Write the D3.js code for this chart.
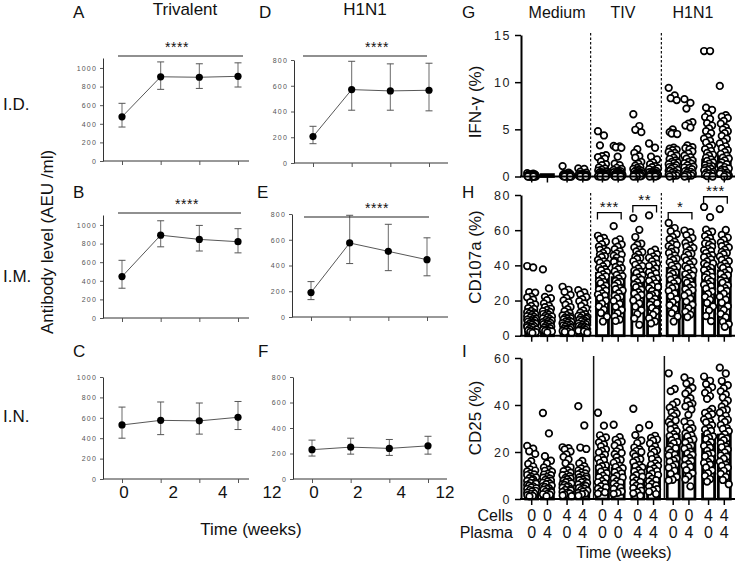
<!DOCTYPE html>
<html><head><meta charset="utf-8">
<script src="https://cdn.jsdelivr.net/npm/d3@7"></script>
<style>body{margin:0;background:#fff}svg{display:block}text{font-family:"Liberation Sans",Arial,sans-serif}</style>
</head><body><svg id="c" width="739" height="565"></svg>
<script>
// ---------- DATA: antibody levels (mean, lower, upper) ----------
const weeks = [0, 2, 4, 12];
const weekLabels = ["0", "2", "4", "12"];
const routeLabels = ["I.D.", "I.M.", "I.N."];
const vaccineLabels = ["Trivalent", "H1N1"];
const panelLetters = ["A", "B", "C", "D", "E", "F"];

const trivID = [475, 905, 900, 910];
const trivIDlo = [365, 770, 780, 795];
const trivIDhi = [620, 1065, 1045, 1055];
const trivIM = [445, 890, 845, 820];
const trivIMlo = [320, 765, 720, 700];
const trivIMhi = [620, 1045, 995, 960];
const trivIN = [530, 575, 570, 605];
const trivINlo = [400, 435, 440, 485];
const trivINhi = [705, 755, 745, 760];
const h1ID = [205, 570, 560, 565];
const h1IDlo = [150, 410, 410, 405];
const h1IDhi = [285, 790, 770, 775];
const h1IM = [190, 575, 510, 445];
const h1IMlo = [135, 415, 360, 320];
const h1IMhi = [275, 790, 720, 615];
const h1IN = [230, 250, 240, 260];
const h1INlo = [180, 195, 185, 195];
const h1INhi = [305, 320, 310, 335];
const sigLabels = ["****", "****", "", "****", "****", ""];

// ---------- DATA: cell assays ----------
const stimuli = ["Medium", "TIV", "H1N1"];
const cellsWeek = ["0","0","4","4","0","4","0","4","0","0","4","4"];
const plasmaWeek = ["0","4","0","4","0","0","4","4","0","4","0","4"];

const ifnMean = [0.1, 0.2, 0.1, 0.1, 0.7, 0.6, 0.7, 0.6, 1.8, 1.8, 1.75, 2.1];
const ifnPoints = [
 [0.35,0.22,0.18,0.12,0.1,0.08,0.06,0.05,0.04,0.03,0.02,0.01,0,0,0,0,0.15,0.25,0.09,0.05,0.02,0.2,0.11,0,0.07,0.13,0.3,0.04],
 [],
 [1.1,0.42,0.31,0.24,0.18,0.12,0.1,0.08,0.05,0.04,0.02,0,0,0,0.15,0.09,0.06,0.01,0.21,0.11,0,0.03,0.07,0.14,0.27],
 [0.85,0.8,0.52,0.41,0.3,0.22,0.17,0.12,0.1,0.08,0.05,0.02,0,0,0,0.14,0.09,0.06,0.01,0.19,0.11,0,0.04,0.07,0.26],
 [4.8,4.35,3.3,2.25,2.15,2.05,1.9,1.6,1.3,1.2,0.95,0.85,0.72,0.63,0.55,0.48,0.42,0.37,0.33,0.28,0.25,0.21,0.18,0.15,0.12,0.1,0.08,0.06,0.04,0.02,0,0,0,0.5,0.3,0.2,0.1,0.05],
 [3.25,3.2,3.1,3.05,2.1,1.35,1.2,0.92,0.8,0.7,0.62,0.55,0.48,0.4,0.36,0.31,0.27,0.24,0.2,0.17,0.14,0.11,0.08,0.06,0.04,0.02,0,0,0,0.45,0.25,0.15,0.05],
 [6.6,5.35,4.95,4.7,2.9,2.5,2.15,2.0,1.55,1.35,1.15,1.0,0.9,0.8,0.72,0.63,0.55,0.5,0.44,0.38,0.32,0.27,0.22,0.18,0.14,0.1,0.07,0.04,0.02,0,0,0.6,0.3,0.15,0.05],
 [3.5,3.05,2.1,1.8,1.5,1.3,1.1,0.98,0.88,0.78,0.68,0.6,0.52,0.46,0.4,0.33,0.28,0.22,0.17,0.13,0.09,0.05,0.02,0,0,0.35,0.2,0.1],
 [9.4,8.6,8.3,8.1,5.0,4.7,4.6,4.55,4.5,3.05,2.95,2.85,2.8,2.6,2.5,2.35,2.2,2.0,1.85,1.7,1.55,1.4,1.3,1.2,1.05,0.95,0.82,0.7,0.6,0.5,0.4,0.3,0.2,0.1,0,1.5,1.0,0.6,0.25,0.05],
 [8.2,7.8,7.2,5.75,5.6,5.4,5.2,3.3,3.1,3.0,2.9,2.65,2.45,2.2,2.05,1.9,1.7,1.55,1.35,1.2,1.05,0.9,0.78,0.62,0.5,0.4,0.3,0.2,0.1,0,1.4,0.95,0.55,0.25,0.05],
 [13.3,13.3,7.3,7.05,6.6,6.3,6.1,5.65,5.4,5.1,4.8,4.6,4.2,4.0,3.8,3.6,3.3,3.1,2.9,2.7,2.5,2.3,2.2,2.0,1.8,1.65,1.5,1.35,1.2,1.05,0.9,0.8,0.65,0.5,0.4,0.3,0.2,0.1,0,1.1,0.7,0.35,0.05],
 [9.6,6.5,6.35,6.2,5.9,5.6,5.2,5.0,4.8,4.6,4.3,4.0,3.7,3.5,3.2,3.0,2.8,2.6,2.4,2.2,2.0,1.9,1.7,1.5,1.3,1.15,1.0,0.85,0.7,0.55,0.4,0.3,0.2,0.1,0,1.2,0.75,0.35,0.05]
];

const cd107Mean = [11.7, 11.2, 9.3, 9.3, 35.5, 33, 35.5, 32.6, 38.3, 35.8, 38.8, 36.9];
const cd107Points = [
 [39.6,38.8,24.8,24.5,22.2,21.8,20.5,19.1,17.8,16.9,15.7,15.2,14.1,13.4,12.6,11.8,11.1,10.4,9.7,9.1,8.3,7.6,7.0,6.4,5.8,5.1,4.5,3.9,3.2,2.6,2.0,13.0,12.2,10.8,9.4,8.7,7.9,6.8,5.4,4.8,3.5,2.9,2.2,1.5],
 [37.7,26.9,22.1,21.3,20.2,18.4,17.1,16.2,15.3,14.6,13.5,12.8,11.9,11.2,10.5,9.8,9.0,8.3,7.7,7.0,6.2,5.6,4.9,4.3,3.6,3.0,2.4,14.0,12.3,10.9,9.5,8.6,7.3,6.6,5.2,4.6,3.3,2.7,1.9],
 [27.8,26.1,24.9,23.2,21.4,20.1,19.0,17.6,16.3,15.1,14.0,12.9,11.8,10.9,10.0,9.2,8.5,7.8,7.1,6.4,5.8,5.1,4.5,3.9,3.3,2.7,2.1,11.5,10.3,9.6,8.1,7.4,6.2,5.5,4.1,3.6,2.3,1.6],
 [25.9,24.6,23.5,22.0,20.8,19.6,18.4,16.9,15.5,14.3,13.1,12.2,11.3,10.5,9.7,8.9,8.2,7.5,6.8,6.1,5.5,4.8,4.2,3.6,3.0,2.4,11.6,10.2,9.3,8.4,7.2,6.5,5.3,4.4,3.4,2.8,1.7],
 [56.8,55.6,54.9,53.4,52.0,50.7,49.3,48.2,47.1,46.0,44.6,43.1,42.2,40.9,39.5,38.6,37.2,36.1,35.0,33.7,32.5,31.1,29.8,28.4,27.0,25.6,24.1,22.8,21.3,19.9,18.2,16.6,14.8,12.9,10.8,8.1,48.8,45.2,41.5,37.8,34.2,30.5,26.3,23.4],
 [62.3,54.8,53.6,51.9,50.6,49.2,48.0,46.8,45.5,44.3,43.1,41.9,40.4,39.1,37.8,36.5,35.2,33.9,32.6,31.2,29.9,28.5,27.1,25.7,24.2,22.8,21.3,19.8,18.1,16.4,14.6,12.8,10.9,9.2,8.4,46.1,42.6,38.4,34.6,30.6,26.4,22.1],
 [66.9,60.2,56.1,52.3,51.7,50.2,48.9,47.5,46.2,44.8,43.6,42.3,41.0,39.6,38.3,37.0,35.7,34.4,33.1,31.8,30.4,29.0,27.6,26.2,24.7,23.2,21.6,20.0,18.3,16.5,14.5,12.3,9.8,6.2,47.9,44.1,40.3,36.4,32.5,28.2,24.0],
 [68.4,48.9,47.6,46.3,45.0,43.6,42.3,41.0,39.6,38.2,36.8,35.4,34.0,32.6,31.2,29.8,28.4,27.0,25.5,24.0,22.5,20.9,19.3,17.6,15.8,13.9,11.9,9.9,8.1,7.0,44.3,40.4,36.1,31.9,27.7,23.2,18.5],
 [64.1,61.2,59.4,57.8,56.2,54.9,53.5,52.2,50.9,49.6,48.3,47.0,45.7,44.4,43.1,41.8,40.5,39.2,37.9,36.6,35.3,34.0,32.6,31.2,29.8,28.4,27.0,25.5,24.0,22.4,20.8,19.1,17.3,15.2,12.8,10.9,8.1,51.6,47.6,43.8,39.9,35.9,31.9,27.7],
 [59.8,58.9,57.2,55.6,54.1,52.7,51.3,49.9,48.6,47.3,46.0,44.7,43.4,42.1,40.8,39.5,38.2,36.9,35.6,34.3,32.9,31.5,30.1,28.7,27.3,25.8,24.3,22.7,21.1,19.4,17.6,15.7,13.6,12.0,10.6,50.6,46.6,42.8,38.9,34.9,30.8,26.5],
 [73.2,67.4,60.3,59.1,57.8,56.6,55.4,54.2,53.0,51.8,50.6,49.4,48.2,47.0,45.8,44.6,43.4,42.2,41.0,39.8,38.6,37.4,36.1,34.8,33.5,32.2,30.9,29.5,28.1,26.7,25.2,23.7,22.1,20.4,18.6,16.6,14.4,11.2,8.3,52.4,48.6,44.9,41.1,37.3,33.2,29.0],
 [72.0,60.1,57.3,55.8,54.4,53.0,51.6,50.2,48.9,47.6,46.3,45.0,43.7,42.4,41.1,39.8,38.5,37.2,35.8,34.4,33.0,31.6,30.1,28.6,27.1,25.5,23.9,22.2,20.5,18.7,16.8,14.7,12.4,10.5,8.0,6.6,5.1,50.9,47.0,43.1,39.2,35.1,30.9,26.6]
];
const cd107Brackets = [[4, 5, 70, "***"], [6, 7, 74, "**"], [8, 9, 70, "*"], [10, 11, 79, "***"]];

const cd25Mean = [8, 8, 9, 10, 14, 13, 14, 14, 27, 26.5, 27.5, 27.2];
const cd25Points = [
 [22.6,21.4,20.3,19.2,16.1,14.9,13.8,12.6,11.7,10.9,10.2,9.5,8.9,8.3,7.7,7.1,6.5,6.0,5.4,4.9,4.3,3.8,3.2,2.7,2.1,1.6,1.1,12.1,10.5,9.2,8.0,6.8,5.7,4.6,3.5,2.4,1.3],
 [36.6,27.9,18.2,16.3,15.1,13.4,12.5,11.6,10.8,10.1,9.4,8.7,8.1,7.5,6.9,6.3,5.7,5.1,4.6,4.0,3.4,2.9,2.3,1.8,1.2,12.0,10.4,9.1,7.8,6.6,5.4,4.3,3.1,2.0],
 [22.0,21.6,21.1,20.2,19.0,17.9,16.8,15.2,13.5,12.3,11.2,10.4,9.7,9.0,8.4,7.8,7.2,6.6,6.0,5.4,4.8,4.2,3.6,3.0,2.4,1.8,1.2,11.8,10.1,8.7,7.5,6.3,5.1,3.9,2.7,1.5],
 [39.5,31.3,21.9,21.3,16.2,15.1,14.0,13.0,12.1,11.3,10.6,9.9,9.2,8.6,8.0,7.4,6.8,6.2,5.6,5.0,4.4,3.8,3.2,2.6,2.0,1.4,12.5,10.9,9.5,8.3,7.1,5.9,4.7,3.5,2.3],
 [36.7,31.2,27.1,26.2,25.3,24.1,23.2,22.4,21.1,19.8,18.9,17.7,16.5,15.4,14.3,13.2,12.1,11.0,9.9,8.8,7.7,6.6,5.5,4.4,3.3,2.3,20.5,17.2,14.0,11.6,9.3,7.1,4.9,2.8],
 [31.6,26.3,25.2,24.4,23.8,22.7,21.5,20.3,19.1,17.8,16.6,15.4,14.2,13.1,12.0,10.9,9.8,8.7,7.6,6.5,5.4,4.3,3.2,2.2,19.6,16.1,13.6,11.4,9.2,7.0,4.8,2.6],
 [38.4,30.1,27.2,24.9,23.8,21.9,21.2,20.4,19.3,18.1,16.9,15.7,14.5,13.4,12.3,11.2,10.1,9.0,7.9,6.8,5.7,4.6,3.5,2.4,1.4,20.0,16.4,13.9,11.7,9.5,7.3,5.1,2.9],
 [31.5,26.9,26.0,25.3,24.8,23.6,22.4,21.2,20.0,18.8,17.6,16.4,15.2,14.1,13.0,11.9,10.8,9.7,8.6,7.5,6.4,5.3,4.2,3.1,2.1,20.7,17.0,14.6,12.4,10.2,8.0,5.8,3.6],
 [53.5,46.8,45.9,41.2,40.1,38.9,37.6,36.4,35.3,34.1,32.8,31.5,30.2,28.9,27.6,26.3,25.0,23.7,22.4,21.1,19.8,18.5,17.2,15.9,14.6,13.3,12.0,10.7,9.4,8.2,7.9,36.9,33.4,29.6,26.8,24.3,21.6,18.9,16.4,13.8],
 [51.7,50.2,49.1,47.3,46.0,44.8,42.9,41.7,40.6,39.4,38.1,32.9,32.1,30.6,29.3,27.9,26.6,25.3,24.0,22.7,21.4,20.1,18.8,17.5,16.2,14.9,13.6,12.3,11.0,9.7,8.3,5.4,39.9,35.8,30.1,27.2,24.6,21.9,19.4,16.8,14.2],
 [52.1,50.3,48.9,47.6,46.2,45.1,43.8,42.6,38.3,37.2,36.1,35.0,33.8,32.6,31.4,30.2,29.0,27.8,26.6,25.4,24.2,23.0,21.8,20.6,19.4,18.2,17.0,15.8,14.6,13.4,12.2,11.0,9.8,8.5,7.4,36.6,32.9,29.5,26.1,22.6,19.0,15.3],
 [55.9,53.4,50.2,48.4,47.1,45.8,44.5,43.2,41.9,40.6,39.3,38.0,36.7,35.4,34.1,32.8,31.5,30.2,28.9,27.6,26.3,25.0,23.7,22.4,21.1,19.8,18.5,17.2,15.9,14.6,13.3,12.0,10.7,9.4,8.1,6.3,37.6,33.7,29.8,25.8,22.0,18.0,14.1]
];

// ---------- DRAWING ----------
const svg = d3.select("#c");
const F = '"Liberation Sans", Arial, sans-serif';
function txt(x, y, s, size, anchor, extra) {
  const t = svg.append("text").attr("x", x).attr("y", y).text(s)
    .attr("font-size", size).attr("text-anchor", anchor || "start").attr("fill", "#111");
  if (extra) extra(t);
  return t;
}

// Left panels
const leftPanels = [
  {m: trivID, lo: trivIDlo, hi: trivIDhi, x0: 103, x1: 249, y0: 161, yt: 58, max: 1107, ticks: [0,200,400,600,800,1000], sigY: 56, sx: [118, 243], starX: 177},
  {m: trivIM, lo: trivIMlo, hi: trivIMhi, x0: 103, x1: 249, y0: 318, yt: 215, max: 1107, ticks: [0,200,400,600,800,1000], sigY: 213, sx: [118, 241], starX: 187},
  {m: trivIN, lo: trivINlo, hi: trivINhi, x0: 103, x1: 249, y0: 479, yt: 377, max: 1000, ticks: [0,200,400,600,800,1000], lab: [124, 272]},
  {m: h1ID, lo: h1IDlo, hi: h1IDhi, x0: 294, x1: 448, y0: 163, yt: 60, max: 800, ticks: [0,200,400,600,800], sigY: 56, sx: [303, 427], starX: 377},
  {m: h1IM, lo: h1IMlo, hi: h1IMhi, x0: 292, x1: 448, y0: 317, yt: 214, max: 800, ticks: [0,200,400,600,800], sigY: 217, sx: [304, 429], starX: 377},
  {m: h1IN, lo: h1INlo, hi: h1INhi, x0: 293, x1: 447, y0: 479, yt: 377, max: 800, ticks: [0,200,400,600,800], lab: [314, 445]}
];
leftPanels.forEach((p, i) => {
  const x = d3.scalePoint().domain(weeks).range([p.x0 + 19, p.x0 + 135]);
  const y = d3.scaleLinear().domain([0, p.max]).range([p.y0, p.yt]);
  const g = svg.append("g");
  const ya = g.append("g").attr("transform", `translate(${p.x0},0)`)
    .call(d3.axisLeft(y).tickValues(p.ticks).tickFormat(d3.format("d")).tickSize(3).tickSizeOuter(0).tickPadding(3));
  ya.select(".domain").attr("stroke", "#333");
  ya.selectAll(".tick line").attr("stroke", "#555");
  ya.selectAll("text").attr("font-size", 7).attr("fill", "#555").attr("letter-spacing", 1.2).attr("font-family", F);
  g.append("line").attr("x1", p.x0).attr("x2", p.x1).attr("y1", p.y0).attr("y2", p.y0).attr("stroke", "#333");
  const xa = g.append("g").attr("transform", `translate(0,${p.y0})`)
    .call(d3.axisBottom(x).tickSize(4).tickSizeOuter(0).tickFormat(""));
  xa.select(".domain").remove();
  xa.selectAll(".tick line").attr("stroke", "#555");
  weeks.forEach((w, j) => {
    const cx = x(w);
    g.append("line").attr("x1", cx).attr("x2", cx).attr("y1", y(p.lo[j])).attr("y2", y(p.hi[j])).attr("stroke", "#777").attr("stroke-width", 1.1);
    [p.lo[j], p.hi[j]].forEach(v => g.append("line").attr("x1", cx - 3.5).attr("x2", cx + 3.5).attr("y1", y(v)).attr("y2", y(v)).attr("stroke", "#555").attr("stroke-width", 1));
  });
  g.append("path").datum(weeks.map((w, j) => [x(w), y(p.m[j])]))
    .attr("d", d3.line()).attr("fill", "none").attr("stroke", "#444").attr("stroke-width", 0.9);
  g.selectAll("circle.pt").data(weeks).join("circle").attr("cx", w => x(w)).attr("cy", (w, j) => y(p.m[j])).attr("r", 3.6).attr("fill", "#000");
  if (sigLabels[i]) {
    g.append("line").attr("x1", p.sx[0]).attr("x2", p.sx[1]).attr("y1", p.sigY).attr("y2", p.sigY).attr("stroke", "#222").attr("stroke-width", 1.2);
    txt(p.starX, p.sigY - 4, sigLabels[i], 14, "middle", t => t.attr("letter-spacing", 0.5));
  }
  txt(p.x0 - 30 + (i >= 3 ? -5 : 0), [18, 198, 357][i % 3], panelLetters[i], 17, "start");
  if (p.lab) {
    const xl = d3.scalePoint().domain(weekLabels).range(p.lab);
    weekLabels.forEach(l => txt(xl(l), 498, l, 17, "middle"));
  }
});
txt(185, 15, vaccineLabels[0], 17, "middle");
txt(365, 15, vaccineLabels[1], 17, "middle");
routeLabels.forEach((r, i) => txt(3, [110, 282, 422][i], r, 17, "start"));
txt(0, 0, "Antibody level (AEU /ml)", 17, "middle", t => t.attr("transform", "translate(53,242) rotate(-90)"));
txt(251, 535, "Time (weeks)", 17, "middle");

// Right panels
const slot = i => i + 0.25 * Math.floor(i / 2);
const xr = d3.scaleLinear().domain([0, slot(11)]).range([531.7, 724.3]);
const sepA = (xr(slot(3)) + xr(slot(4))) / 2, sepB = (xr(slot(7)) + xr(slot(8))) / 2;

function swarm(vals, cx, y, maxOff, minD) {
  const placed = [];
  const cands = d3.range(-maxOff, maxOff + 0.01, 1);
  vals.slice().sort((a, b) => b - a).forEach((v, k) => {
    const py = y(v);
    const pref = ((k * 0.6180339) % 1 - 0.5) * 2 * maxOff;
    let best = pref, bestScore = Infinity;
    cands.forEach(o => {
      let md = Infinity;
      placed.forEach(p => { const d = Math.hypot(p.x - (cx + o), p.y - py); if (d < md) md = d; });
      const score = (md >= minD ? 0 : 100) + Math.abs(o - pref);
      if (score < bestScore) { bestScore = score; best = o; }
    });
    if (bestScore >= 100) best = pref;
    placed.push({x: cx + best, y: py});
  });
  return placed;
}

const rightPanels = [
  {mean: ifnMean, pts: ifnPoints, max: 15, y0: 176.5, yt: 35, ticks: [0,5,10,15], label: "IFN-γ (%)", ly: 102, dashed: true, letter: "G", lety: 18},
  {mean: cd107Mean, pts: cd107Points, max: 80, y0: 335.7, yt: 195, ticks: [0,20,40,60,80], label: "CD107a (%)", ly: 257, dashed: true, letter: "H", lety: 198, br: cd107Brackets},
  {mean: cd25Mean, pts: cd25Points, max: 60, y0: 499, yt: 358, ticks: [0,20,40,60], label: "CD25 (%)", ly: 418, dashed: false, letter: "I", lety: 357}
];
rightPanels.forEach(p => {
  const y = d3.scaleLinear().domain([0, p.max]).range([p.y0, p.yt]);
  const g = svg.append("g");
  [sepA, sepB].forEach(sx => {
    g.append("line").attr("x1", sx + (p.dashed ? -2 : 1)).attr("x2", sx + (p.dashed ? -2 : 1))
      .attr("y1", p.yt - 2).attr("y2", p.y0).attr("stroke", "#111")
      .attr("stroke-width", p.dashed ? 1.2 : 1.5).attr("stroke-dasharray", p.dashed ? "2.5,2" : null);
  });
  p.mean.forEach((m, i) => {
    const cx = xr(slot(i));
    g.append("rect").attr("x", cx - 6).attr("width", 12).attr("y", y(m)).attr("height", Math.max(0, y(0) - y(m)))
      .attr("fill", "#fff").attr("stroke", "#000").attr("stroke-width", 2.8);
  });
  p.pts.forEach((vals, i) => {
    const cx = xr(slot(i));
    const placed = swarm(vals, cx, y, 4.5, 3.4);
    g.selectAll(null).data(placed).join("circle").attr("cx", d => d.x).attr("cy", d => d.y).attr("r", 3.3)
      .attr("fill", "#fff").attr("stroke", "#000").attr("stroke-width", 1.7);
  });
  const ya = g.append("g").attr("transform", "translate(521,0)")
    .call(d3.axisLeft(y).tickValues(p.ticks).tickSize(6).tickSizeOuter(0).tickPadding(4));
  ya.select(".domain").attr("stroke", "#000").attr("stroke-width", 2);
  ya.selectAll(".tick line").attr("stroke", "#000").attr("stroke-width", 1.5);
  ya.selectAll("text").attr("font-size", 12.5).attr("fill", "#222").attr("letter-spacing", 1.5).attr("font-family", F);
  g.append("line").attr("x1", 520).attr("x2", 735).attr("y1", y(0)).attr("y2", y(0)).attr("stroke", "#000").attr("stroke-width", 2);
  d3.range(12).forEach(i => {
    const cx = xr(slot(i));
    g.append("line").attr("x1", cx).attr("x2", cx).attr("y1", y(0)).attr("y2", y(0) + 6).attr("stroke", "#000").attr("stroke-width", 1.5);
  });
  (p.br || []).forEach(b => {
    const xa = xr(slot(b[0])) - 5, xb = xr(slot(b[1])) + 3, by = y(b[2]);
    g.append("path").attr("d", `M${xa},${by + 7}V${by}H${xb}V${by + 7}`).attr("fill", "none").attr("stroke", "#000").attr("stroke-width", 1.3);
    txt((xa + xb) / 2, by - 1, b[3], 15, "middle", t => t.attr("letter-spacing", 0.5));
  });
  txt(0, 0, p.label, 17, "middle", t => t.attr("transform", `translate(481,${p.ly}) rotate(-90)`));
  txt(462, p.lety, p.letter, 17, "start");
});
txt(557, 18, stimuli[0], 16, "middle");
txt(623, 18, stimuli[1], 16, "middle");
txt(693, 18, stimuli[2], 16, "middle");
txt(513, 521, "Cells", 16, "end");
txt(513, 538, "Plasma", 16, "end");
cellsWeek.forEach((c, i) => txt(xr(slot(i)), 521, c, 16, "middle"));
plasmaWeek.forEach((c, i) => txt(xr(slot(i)), 538, c, 16, "middle"));
txt(624, 558, "Time (weeks)", 16, "middle");
</script></body></html>
